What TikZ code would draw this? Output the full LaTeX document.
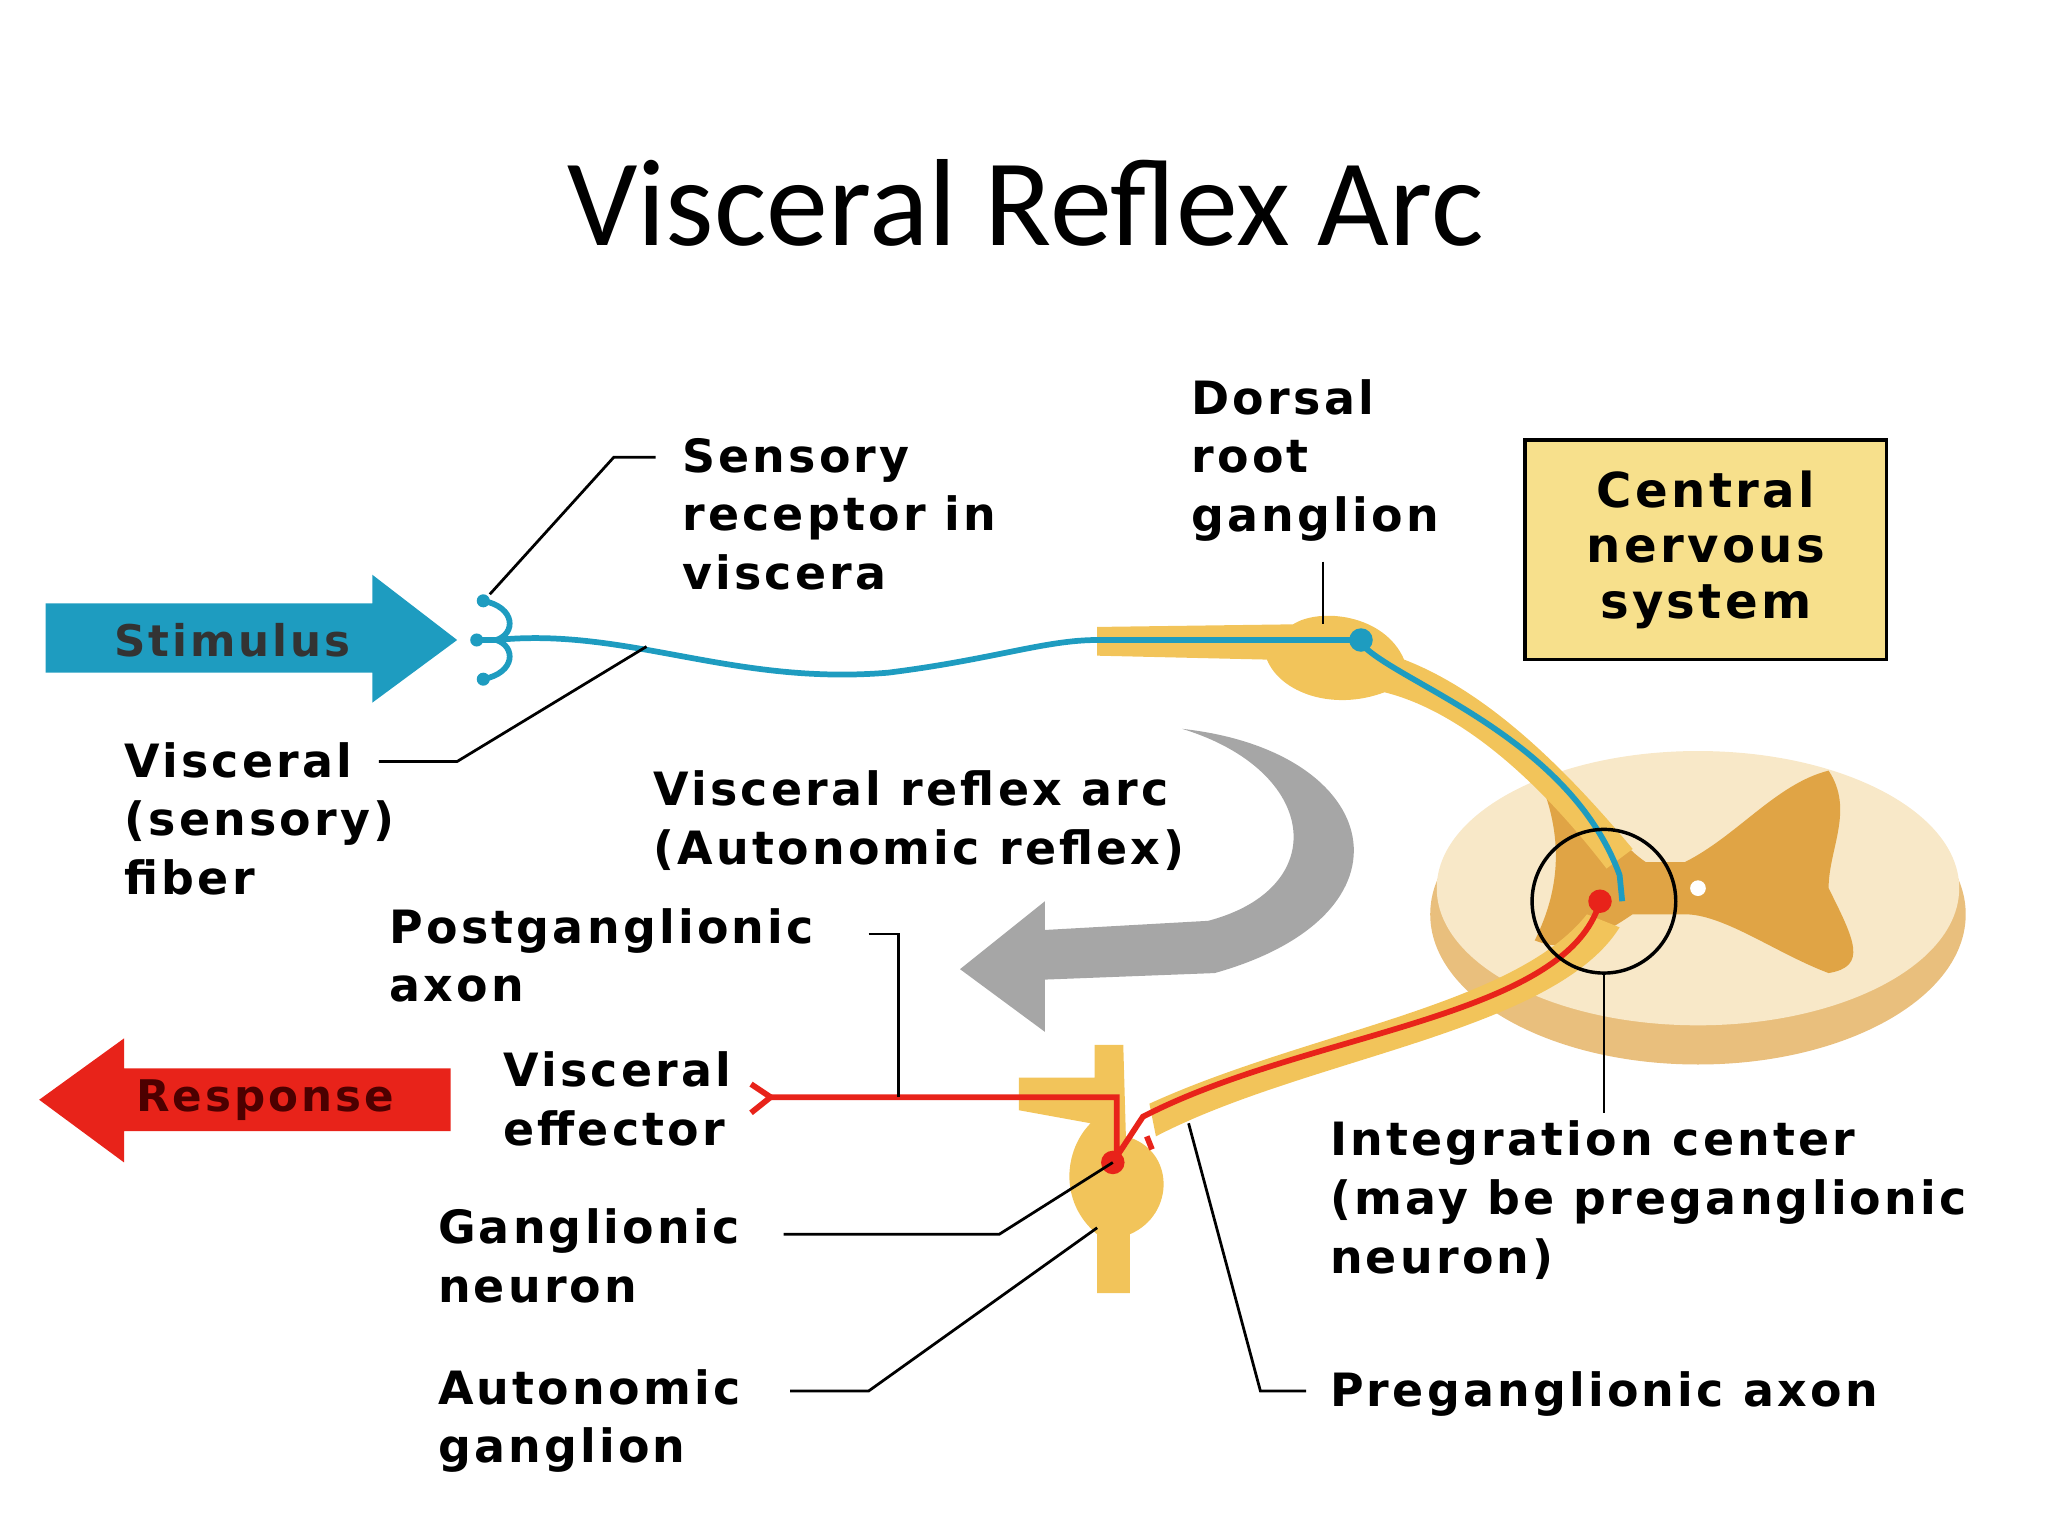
\documentclass[tikz,border=0pt]{standalone}
\usepackage{fontspec}
\setmainfont{DejaVu Sans}[LetterSpace=7]
\newfontfamily\titlefont{Carlito}
\definecolor{teal1}{HTML}{1E9CC0}
\definecolor{red1}{HTML}{E8231A}
\definecolor{nerve}{HTML}{F2C45A}
\definecolor{cord}{HTML}{F8E8C8}
\definecolor{grey1}{HTML}{E0A445}
\definecolor{boxy}{HTML}{F7E08C}
\begin{document}
\begin{tikzpicture}[x=0.02cm,y=-0.02cm,
  lbl/.style={font=\fontsize{20}{25.5}\selectfont\bfseries,align=left,inner sep=0,anchor=north west},
  lead/.style={black,line width=1.2pt}]
\useasboundingbox (0,0) rectangle (1568,1176);
% title
\node[font=\titlefont\fontsize{54}{60}\selectfont] (title) at (785,155) {Visceral Reflex Arc};
% stimulus and response arrows
\fill[teal1] (35,462) -- (285,462) -- (285,440) -- (350,490) -- (285,538) -- (285,515) -- (35,515) -- cycle;
\node[font=\fontsize{19}{24}\selectfont\bfseries,text=black!80] (stim) at (178,490) {Stimulus};
\fill[red1] (345,818) -- (95,818) -- (95,795) -- (30,842) -- (95,890) -- (95,866) -- (345,866) -- cycle;
\node[font=\fontsize{19}{24}\selectfont\bfseries,text=black!70!red] (resp) at (203,842) {Response};
% gray curved arrow
\fill[black!35] (905,558) .. controls (1060,575) and (1090,700) .. (930,745) -- (800,750)
  -- (800,790) -- (735,742) -- (800,690) -- (800,712) -- (925,705) .. controls (1020,680) and (1010,590) .. cycle;
% spinal cord
\fill[grey1!70] (1300,700) ellipse (205 and 115);
\fill[cord] (1300,680) ellipse (200 and 105);
\fill[grey1] (1180,600) .. controls (1210,590) and (1230,640) .. (1260,660) -- (1290,660)
  .. controls (1330,640) and (1360,600) .. (1400,590) .. controls (1420,620) and (1400,650) .. (1400,680)
  .. controls (1420,720) and (1430,740) .. (1400,745) .. controls (1360,730) and (1320,700) .. (1290,700)
  -- (1250,700) .. controls (1220,720) and (1200,730) .. (1175,720) .. controls (1190,690) and (1200,650) .. cycle;
\fill[white] (1300,680) circle (6);
% nerves
\fill[nerve] (840,480) -- (990,478) .. controls (1010,465) and (1060,470) .. (1075,505)
  .. controls (1140,530) and (1200,590) .. (1250,650) -- (1230,665) .. controls (1180,600) and (1120,545) .. (1060,530)
  .. controls (1020,545) and (980,530) .. (970,505) -- (840,502) -- cycle;
\fill[nerve] (1215,700) .. controls (1160,770) and (1000,790) .. (880,845) -- (885,870)
  .. controls (1000,810) and (1190,790) .. (1240,710) -- cycle;
% autonomic ganglion
\fill[nerve] (838,800) -- (860,800) -- (862,870) .. controls (900,880) and (900,930) .. (865,945)
  -- (865,990) -- (840,990) -- (840,945) .. controls (810,920) and (815,880) .. (835,860)
  -- (780,850) -- (780,825) -- (838,825) -- cycle;
% blue sensory fibre
\draw[teal1,line width=2.5pt] (380,490) .. controls (480,480) and (560,525) .. (680,515)
  .. controls (760,505) and (800,490) .. (840,490) -- (1040,490) .. controls (1060,520) and (1200,560) .. (1240,670) -- (1242,690);
\draw[teal1,line width=2.5pt] (370,460) .. controls (395,465) and (395,485) .. (380,490) .. controls (395,495) and (395,515) .. (370,520);
\draw[teal1,line width=2.5pt] (365,490) -- (380,490);
\fill[teal1] (1042,490) circle (9) (370,460) circle (5) (370,520) circle (5) (365,490) circle (5);
% red motor path
\draw[red1,line width=2.5pt] (1225,690) .. controls (1200,780) and (1000,790) .. (875,855) -- (852,890)
  (855,885) -- (855,840) -- (590,840);
\draw[red1,line width=2.5pt] (575,830) -- (590,840) -- (575,852);
\draw[red1,line width=2.5pt] (878,870) -- (882,880);
\fill[red1] (1225,690) circle (9) (852,890) circle (9);
% integration circle
\draw[line width=1.5pt] (1228,690) circle (55);
% CNS box
\node[draw,fill=boxy,line width=1.5pt,minimum width=5.54cm,minimum height=3.36cm,
  font=\fontsize{21}{24}\selectfont\bfseries,align=center] (cns) at (1306,421) {Central\\nervous\\system};
% labels
\node[lbl] (sens) at (522,335) {Sensory\\receptor in\\viscera};
\node[lbl] (drg) at (912,290) {Dorsal\\root\\ganglion};
\node[lbl] (vfib) at (95,568) {Visceral\\(sensory)\\fiber};
\node[lbl] (varc) at (500,590) {Visceral reflex arc\\(Autonomic reflex)};
\node[lbl] (post) at (298,695) {Postganglionic\\axon};
\node[lbl] (veff) at (385,805) {Visceral\\effector};
\node[lbl] (gneu) at (335,925) {Ganglionic\\neuron};
\node[lbl] (agang) at (335,1048) {Autonomic\\ganglion};
\node[lbl] (integ) at (1018,858) {Integration center\\(may be preganglionic\\neuron)};
\node[lbl] (pre) at (1018,1050) {Preganglionic axon};
% leader lines
\coordinate (sensEnd) at (375,455);
\draw[lead] (sens.north west) ++(-20,15) -- (470,350) -- (sensEnd);
\draw[lead] (290,583) -- (350,583) -- (495,495);
\draw[lead] (1013,430) -- (1013,478);
\draw[lead] (665,715) -- (688,715) -- (688,840);
\draw[lead] (600,945) -- (765,945) -- (852,890);
\draw[lead] (605,1065) -- (665,1065) -- (840,940);
\draw[lead] (1228,745) -- (1228,852);
\draw[lead] (1000,1065) -- (965,1065) -- (910,860);
\end{tikzpicture}
\end{document}
